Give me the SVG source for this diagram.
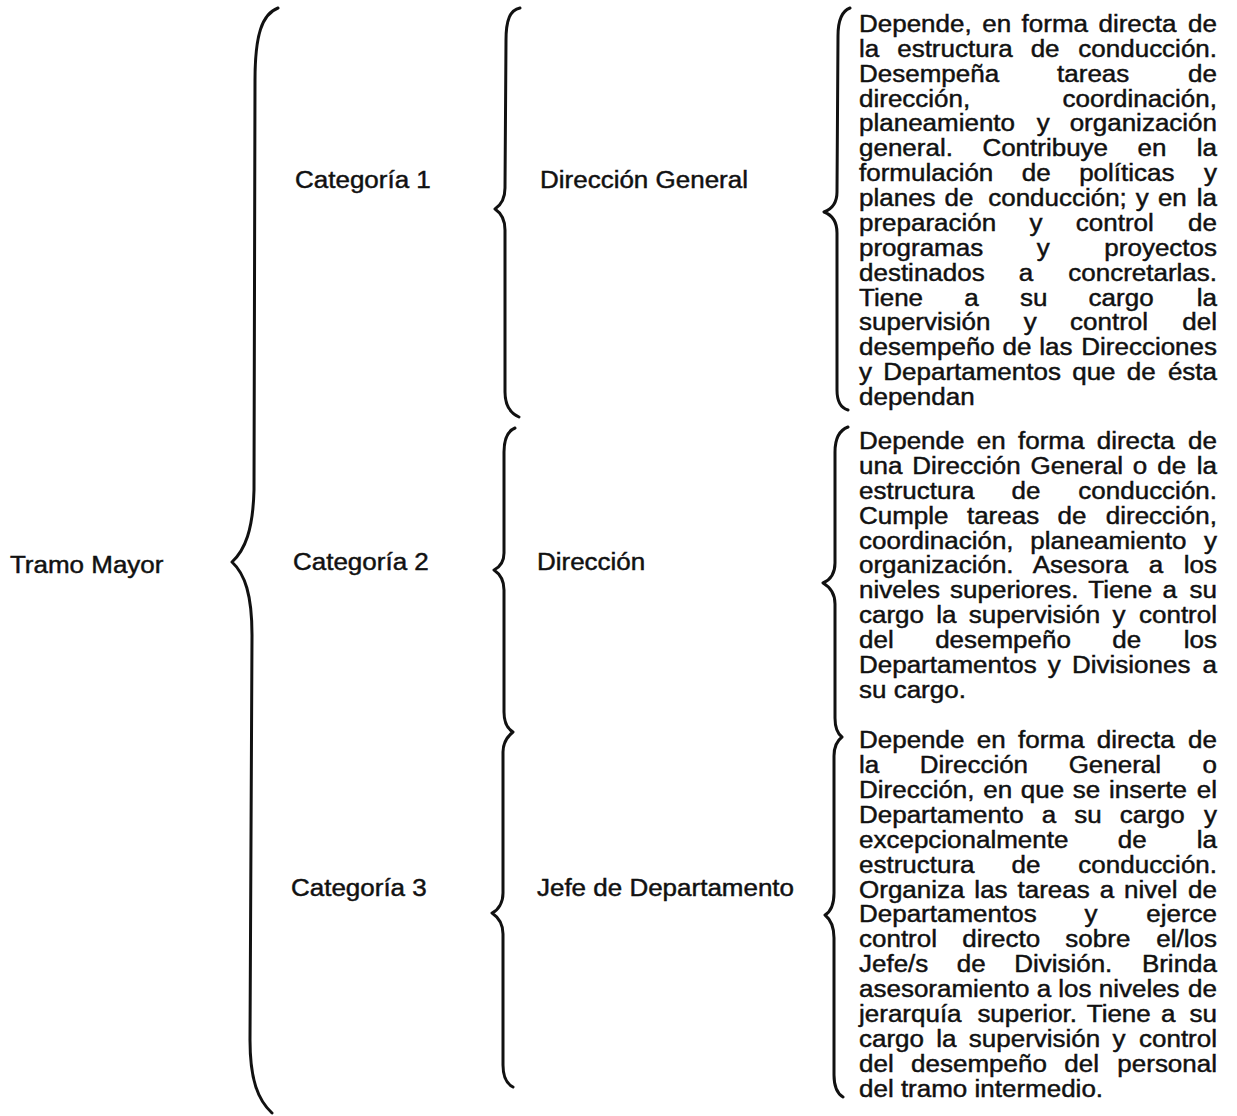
<svg xmlns="http://www.w3.org/2000/svg" width="1237" height="1116" viewBox="0 0 1237 1116">
<style>
.t{font-family:"Liberation Sans",Arial,Helvetica,sans-serif;font-size:23px;fill:#111;stroke:#111;stroke-width:0.45px}
.e{text-anchor:end}
.brace{fill:none;stroke:#111;stroke-width:3;stroke-linecap:round;stroke-linejoin:round}
</style>
<rect width="1237" height="1116" fill="#fff"/>
<g id="connectors">
<path class="brace" d="M278,8 C262,14 255,35 255,80 L254,490 C253,530 245,550 232,562 C245,574 252,595 252,635 L250,1040 C250,1080 258,1100 272,1113"/>
<path class="brace" d="M520,8 C510,10 506,20 506,40 L505,188 C505,198 501,205 495,209 C501,213 505,220 505,230 L505,392 C505,404 510,413 519,417"/>
<path class="brace" d="M515,428 C508,431 504,438 504,452 L504,553 C504,561 500,567 494,570 C500,574 504,580 504,590 L504,712 C504,722 508,729 513,732 C508,736 503,742 503,752 L503,893 C503,903 498,910 492,913 C498,917 503,924 503,934 L503,1065 C503,1077 507,1084 513,1087"/>
<path class="brace" d="M850,8 C842,11 838,20 838,36 L837,192 C837,203 832,209 824,212 C832,215 837,222 837,233 L837,390 C837,402 841,408 848,410"/>
<path class="brace" d="M848,427 C840,430 835,438 835,452 L835,563 C835,574 830,580 823,583 C830,587 835,594 835,604 L835,718 C835,728 838,734 842,737 C838,740 834,746 834,756 L834,893 C834,905 830,912 825,915 C830,919 834,926 834,938 L834,1075 C834,1088 838,1094 843,1097"/>
</g>
<g id="tramo-mayor" transform="scale(1.13,1)"><text class="t" x="8.8" y="573">Tramo Mayor</text></g>
<g id="categoria-1" transform="scale(1.13,1)"><text class="t" x="261.1" y="188">Categoría 1</text></g>
<g id="categoria-2" transform="scale(1.13,1)"><text class="t" x="259.3" y="570">Categoría 2</text></g>
<g id="categoria-3" transform="scale(1.13,1)"><text class="t" x="257.5" y="896">Categoría 3</text></g>
<g id="direccion-general" transform="scale(1.13,1)"><text class="t" x="477.9" y="188">Dirección General</text></g>
<g id="direccion" transform="scale(1.13,1)"><text class="t" x="475.2" y="570">Dirección</text></g>
<g id="jefe-departamento" transform="scale(1.13,1)"><text class="t" x="475.2" y="896">Jefe de Departamento</text></g>
<g id="desc-direccion-general" transform="scale(1.13,1)">
<text class="t" x="760.2" y="32" style="word-spacing:2.9px">Depende, en forma directa</text><text class="t e" x="1077" y="32">de</text>
<text class="t" x="760.2" y="56.9" style="word-spacing:9.5px">la estructura de</text><text class="t e" x="1077" y="56.9">conducción.</text>
<text class="t" x="760.2" y="81.7" style="word-spacing:44.9px">Desempeña tareas</text><text class="t e" x="1077" y="81.7">de</text>
<text class="t" x="760.2" y="106.6">dirección,</text><text class="t e" x="1077" y="106.6">coordinación,</text>
<text class="t" x="760.2" y="131.5" style="word-spacing:12.8px">planeamiento y</text><text class="t e" x="1077" y="131.5">organización</text>
<text class="t" x="760.2" y="156.4" style="word-spacing:19.7px">general. Contribuye en</text><text class="t e" x="1077" y="156.4">la</text>
<text class="t" x="760.2" y="181.2" style="word-spacing:18.8px">formulación de políticas</text><text class="t e" x="1077" y="181.2">y</text>
<text class="t" x="760.2" y="206.1" style="word-spacing:1.6px">planes de <tspan dx="5">conducción;</tspan> y en</text><text class="t e" x="1077" y="206.1">la</text>
<text class="t" x="760.2" y="231" style="word-spacing:23.1px">preparación y control</text><text class="t e" x="1077" y="231">de</text>
<text class="t" x="760.2" y="255.8" style="word-spacing:41px">programas y</text><text class="t e" x="1077" y="255.8">proyectos</text>
<text class="t" x="760.2" y="280.7" style="word-spacing:23.8px">destinados a</text><text class="t e" x="1077" y="280.7">concretarlas.</text>
<text class="t" x="760.2" y="305.6" style="word-spacing:30.1px">Tiene a su cargo</text><text class="t e" x="1077" y="305.6">la</text>
<text class="t" x="760.2" y="330.4" style="word-spacing:23.1px">supervisión y control</text><text class="t e" x="1077" y="330.4">del</text>
<text class="t" x="760.2" y="355.3" style="word-spacing:0.5px">desempeño de las</text><text class="t e" x="1077" y="355.3">Direcciones</text>
<text class="t" x="760.2" y="380.2" style="word-spacing:3.6px">y Departamentos que de</text><text class="t e" x="1077" y="380.2">ésta</text>
<text class="t" x="760.2" y="405">dependan</text>
</g>
<g id="desc-direccion" transform="scale(1.13,1)">
<text class="t" x="760.2" y="449" style="word-spacing:4.5px">Depende en forma directa</text><text class="t e" x="1077" y="449">de</text>
<text class="t" x="760.2" y="473.9" style="word-spacing:2.4px">una Dirección General o de</text><text class="t e" x="1077" y="473.9">la</text>
<text class="t" x="760.2" y="498.8" style="word-spacing:26.3px">estructura de</text><text class="t e" x="1077" y="498.8">conducción.</text>
<text class="t" x="760.2" y="523.7" style="word-spacing:9.9px">Cumple tareas de</text><text class="t e" x="1077" y="523.7">dirección,</text>
<text class="t" x="760.2" y="548.6" style="word-spacing:8.5px">coordinación, planeamiento</text><text class="t e" x="1077" y="548.6">y</text>
<text class="t" x="760.2" y="573.5" style="word-spacing:11.9px">organización. Asesora a</text><text class="t e" x="1077" y="573.5">los</text>
<text class="t" x="760.2" y="598.4" style="word-spacing:2.6px">niveles superiores. Tiene a</text><text class="t e" x="1077" y="598.4">su</text>
<text class="t" x="760.2" y="623.3" style="word-spacing:4.5px">cargo la supervisión y</text><text class="t e" x="1077" y="623.3">control</text>
<text class="t" x="760.2" y="648.2" style="word-spacing:30.3px">del desempeño de</text><text class="t e" x="1077" y="648.2">los</text>
<text class="t" x="760.2" y="673.1" style="word-spacing:3.5px">Departamentos y Divisiones</text><text class="t e" x="1077" y="673.1">a</text>
<text class="t" x="760.2" y="698">su cargo.</text>
</g>
<g id="desc-jefe-departamento" transform="scale(1.13,1)">
<text class="t" x="760.2" y="748" style="word-spacing:4.5px">Depende en forma directa</text><text class="t e" x="1077" y="748">de</text>
<text class="t" x="760.2" y="772.9" style="word-spacing:29.5px">la Dirección General</text><text class="t e" x="1077" y="772.9">o</text>
<text class="t" x="760.2" y="797.9" style="word-spacing:1.3px">Dirección, en que se inserte</text><text class="t e" x="1077" y="797.9">el</text>
<text class="t" x="760.2" y="822.8" style="word-spacing:9.6px">Departamento a su cargo</text><text class="t e" x="1077" y="822.8">y</text>
<text class="t" x="760.2" y="847.7" style="word-spacing:37.2px">excepcionalmente de</text><text class="t e" x="1077" y="847.7">la</text>
<text class="t" x="760.2" y="872.7" style="word-spacing:26.3px">estructura de</text><text class="t e" x="1077" y="872.7">conducción.</text>
<text class="t" x="760.2" y="897.6" style="word-spacing:2.4px">Organiza las tareas a nivel</text><text class="t e" x="1077" y="897.6">de</text>
<text class="t" x="760.2" y="922.5" style="word-spacing:36px">Departamentos y</text><text class="t e" x="1077" y="922.5">ejerce</text>
<text class="t" x="760.2" y="947.4" style="word-spacing:15.9px">control directo sobre</text><text class="t e" x="1077" y="947.4">el/los</text>
<text class="t" x="760.2" y="972.4" style="word-spacing:18.8px">Jefe/s de División.</text><text class="t e" x="1077" y="972.4">Brinda</text>
<text class="t" x="760.2" y="997.3">asesoramiento a los niveles</text><text class="t e" x="1077" y="997.3">de</text>
<text class="t" x="760.2" y="1022.2" style="word-spacing:2.6px">jerarquía <tspan dx="5">superior.</tspan> Tiene a</text><text class="t e" x="1077" y="1022.2">su</text>
<text class="t" x="760.2" y="1047.2" style="word-spacing:4.5px">cargo la supervisión y</text><text class="t e" x="1077" y="1047.2">control</text>
<text class="t" x="760.2" y="1072.1" style="word-spacing:9px">del desempeño del</text><text class="t e" x="1077" y="1072.1">personal</text>
<text class="t" x="760.2" y="1097">del tramo intermedio.</text>
</g>
</svg>
